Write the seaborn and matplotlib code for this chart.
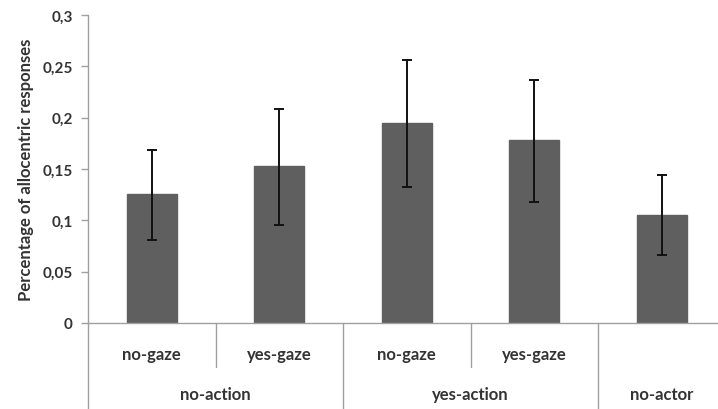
import matplotlib
matplotlib.use("Agg")
import matplotlib.pyplot as plt
import matplotlib.ticker as mticker
import seaborn as sns
import pandas as pd
import numpy as np

# Data
conditions = ["no-gaze", "yes-gaze", "no-gaze ", "yes-gaze ", "no-actor"]
level1_labels = ["no-gaze", "yes-gaze", "no-gaze", "yes-gaze", ""]
groups = ["no-action", "yes-action", "no-actor"]
group_centers = [0.5, 2.5, 4.0]
values = [0.126, 0.153, 0.1945, 0.178, 0.105]
err_upper = [0.1685, 0.2084, 0.256, 0.2367, 0.1439]
err_lower = [0.081, 0.0955, 0.132, 0.118, 0.066]
yticks = [0, 0.05, 0.1, 0.15, 0.2, 0.25, 0.3]

sns.set_theme(style="white")
plt.rcParams['font.family'] = ['Lato', 'DejaVu Sans']

fig = plt.figure(figsize=(7.18, 4.10), dpi=100)
ax = fig.add_axes([88/718, 86/410, 1 - 88/718, 308/410])

df = pd.DataFrame({"cond": conditions, "val": values})
sns.barplot(data=df, x="cond", y="val", color="#5f5f5f", saturation=1,
            width=0.39, ax=ax, errorbar=None, order=conditions)
for p in ax.patches:
    p.set_edgecolor("#5f5f5f")

xs = np.arange(len(values))
vals = np.array(values)
yerr = np.vstack([vals - np.array(err_lower), np.array(err_upper) - vals])
ax.errorbar(xs, vals, yerr=yerr, fmt="none", ecolor="#111111",
            elinewidth=1.4, capsize=3.3, capthick=1.4, zorder=5)

ax.set_xlim(-0.5, 4.44)
ax.set_ylim(0, 0.3)
ax.set_yticks(yticks)
ax.yaxis.set_major_formatter(mticker.FuncFormatter(
    lambda v, p: ("%g" % round(v, 2)).replace(".", ",")))
ax.tick_params(axis="y", which="major", left=True, length=5, width=1,
               color="#a0a0a0", labelsize=11, labelcolor="#333333", pad=6)
for lab in ax.get_yticklabels():
    lab.set_fontweight("bold")
ax.set_xticks([])
ax.set_xlabel("")
ax.set_ylabel("Percentage of allocentric responses", fontsize=12,
              fontweight="bold", color="#333333", labelpad=6)

for s in ["top", "right"]:
    ax.spines[s].set_visible(False)
for s in ["left", "bottom"]:
    ax.spines[s].set_color("#a0a0a0")
    ax.spines[s].set_linewidth(1)

trans = ax.get_xaxis_transform()
line_kw = dict(color="#a0a0a0", lw=1, transform=trans, clip_on=False)
# y-axis extension below
ax.plot([-0.5, -0.5], [0, -0.3], **line_kw)
for xv in [0.5, 2.5]:
    ax.plot([xv, xv], [0, -0.143], **line_kw)
for xv in [1.5, 3.5]:
    ax.plot([xv, xv], [0, -0.3], **line_kw)

for i, lab in enumerate(level1_labels):
    if lab:
        ax.text(i, -0.10, lab, transform=trans, ha="center", va="center",
                fontsize=12, fontweight="bold", color="#333333")
for g, c in zip(groups, group_centers):
    ax.text(c, -0.232, g, transform=trans, ha="center", va="center",
            fontsize=12, fontweight="bold", color="#333333")

fig.savefig("out.png", dpi=100)
